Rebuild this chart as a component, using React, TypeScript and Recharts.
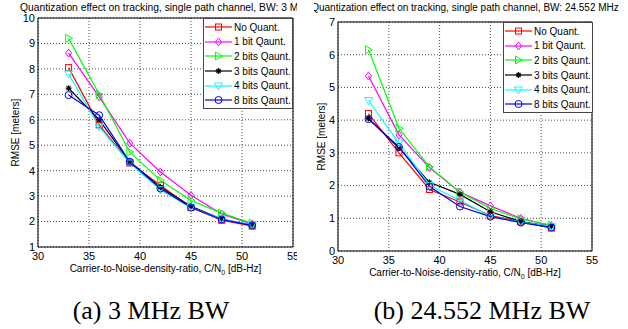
import React from "react";
import { LineChart, Line, XAxis, YAxis, CartesianGrid, ReferenceArea, Legend } from "recharts";

const snr = [33, 36, 39, 42, 45, 48, 51];
const xTicks = [30, 35, 40, 45, 50, 55];
const seriesNames = ["No Quant.", "1 bit Qaunt.", "2 bits Qaunt.", "3 bits Qaunt.", "4 bits Qaunt.", "8 bits Qaunt."];

// (a) 3 MHz BW
const yTicksA = [1, 2, 3, 4, 5, 6, 7, 8, 9, 10];
const noQuantA = [8.05, 5.8, 4.3, 3.43, 2.55, 2.05, 1.82];
const bit1A = [8.62, 6.9, 5.08, 3.95, 3.03, 2.3, 1.9];
const bit2A = [9.2, 7.0, 4.73, 3.62, 2.83, 2.33, 1.93];
const bit3A = [7.24, 6.0, 4.35, 3.35, 2.6, 2.1, 1.85];
const bit4A = [7.8, 5.72, 4.3, 3.25, 2.55, 2.1, 1.88];
const bit8A = [6.97, 6.18, 4.35, 3.3, 2.55, 2.08, 1.85];

// (b) 24.552 MHz BW
const yTicksB = [0, 1, 2, 3, 4, 5, 6, 7];
const noQuantB = [4.2, 3.0, 1.88, 1.5, 1.08, 0.9, 0.7];
const bit1B = [5.35, 3.55, 2.55, 1.8, 1.38, 1.0, 0.78];
const bit2B = [6.15, 3.75, 2.57, 1.8, 1.3, 0.98, 0.78];
const bit3B = [4.05, 3.15, 2.1, 1.73, 1.2, 0.9, 0.75];
const bit4B = [4.6, 3.3, 2.0, 1.55, 1.05, 0.88, 0.75];
const bit8B = [4.03, 3.18, 1.97, 1.36, 1.05, 0.87, 0.72];

const keys = ["s0", "s1", "s2", "s3", "s4", "s5"];
const colors = ["#ff0000", "#ff00ff", "#00ff00", "#000000", "#00ffff", "#0000ff"];
const shapes = ["square", "diamond", "right", "star", "down", "circle"];

const FONT = "'Liberation Sans', Arial, sans-serif";

function buildRows(series: number[][]) {
  return snr.map((x, i) => {
    const row: Record<string, number> = { snr: x };
    series.forEach((vals, k) => (row[keys[k]] = vals[i]));
    return row;
  });
}

const dataA = buildRows([noQuantA, bit1A, bit2A, bit3A, bit4A, bit8A]);
const dataB = buildRows([noQuantB, bit1B, bit2B, bit3B, bit4B, bit8B]);

function Marker({ shape, cx, cy, color }: { shape: string; cx: number; cy: number; color: string }) {
  const p = { fill: "none", stroke: color, strokeWidth: 1 };
  switch (shape) {
    case "square":
      return <rect x={cx - 3} y={cy - 3} width={6} height={6} {...p} />;
    case "diamond":
      return <polygon points={`${cx},${cy - 4} ${cx + 3},${cy} ${cx},${cy + 4} ${cx - 3},${cy}`} {...p} />;
    case "right":
      return <polygon points={`${cx - 3},${cy - 4} ${cx + 4},${cy} ${cx - 3},${cy + 4}`} {...p} />;
    case "down":
      return <polygon points={`${cx - 4},${cy - 3} ${cx + 4},${cy - 3} ${cx},${cy + 4}`} {...p} />;
    case "circle":
      return <circle cx={cx} cy={cy} r={3.5} {...p} />;
    default:
      return (
        <g stroke={color} strokeWidth={1.2}>
          <line x1={cx - 3} y1={cy} x2={cx + 3} y2={cy} />
          <line x1={cx} y1={cy - 3} x2={cx} y2={cy + 3} />
          <line x1={cx - 2} y1={cy - 2} x2={cx + 2} y2={cy + 2} />
          <line x1={cx - 2} y1={cy + 2} x2={cx + 2} y2={cy - 2} />
        </g>
      );
  }
}

const renderLegend = () => (
  <div
    style={{
      boxSizing: "border-box",
      width: 90,
      height: 91,
      border: "1px solid #444",
      background: "#fff",
      padding: "1px 0",
      fontFamily: FONT,
      fontSize: 10,
      color: "#000",
    }}
  >
    {seriesNames.map((name, k) => (
      <div key={name} style={{ display: "flex", alignItems: "center", height: 14.6, whiteSpace: "nowrap" }}>
        <svg width={29} height={10} style={{ flex: "none" }}>
          <line x1={1} y1={5} x2={28} y2={5} stroke={colors[k]} strokeWidth={1.2} />
          <Marker shape={shapes[k]} cx={14.5} cy={5} color={colors[k]} />
        </svg>
        <span style={{ marginLeft: 1 }}>{name}</span>
      </div>
    ))}
  </div>
);

function Panel({
  data,
  yTicks,
  title,
  titleSize,
  left,
  top,
  right,
  bottom,
  yLabelOffset,
  legendPos,
}: {
  data: Record<string, number>[];
  yTicks: number[];
  title: string;
  titleSize: number;
  left: number;
  top: number;
  right: number;
  bottom: number;
  yLabelOffset: number;
  legendPos: { top: number; left: number };
}) {
  const width = 314;
  const height = 280;
  const yMin = yTicks[0];
  const yMax = yTicks[yTicks.length - 1];
  const plotCenter = left + (width - left - right) / 2;
  return (
    <div style={{ position: "relative", width, height: 329 }}>
      <div
        style={{
          position: "absolute",
          top: 2,
          left: plotCenter - 200,
          width: 400,
          textAlign: "center",
          fontFamily: FONT,
          fontSize: titleSize,
          lineHeight: "12px",
          whiteSpace: "nowrap",
          color: "#000",
        }}
      >
        {title}
      </div>
      <LineChart width={width} height={height} data={data} margin={{ top, right, left: 0, bottom: 0 }}>
        <CartesianGrid stroke="#222" strokeDasharray="1 2" strokeWidth={0.8} />
        <XAxis
          dataKey="snr"
          type="number"
          domain={[30, 55]}
          ticks={xTicks}
          interval={0}
          height={height - bottom}
          axisLine={false}
          tickLine={false}
          tickSize={0}
          tickMargin={5}
          tick={{ fill: "#000", fontSize: 11, fontFamily: FONT }}
          label={{
            content: (props: any) => {
              const vb = props.viewBox || {};
              const cx = (vb.x ?? left) + (vb.width ?? 0) / 2;
              const y = (vb.y ?? bottom) + 25;
              return (
                <text x={cx} y={y} textAnchor="middle" fontFamily={FONT} fontSize={10} fill="#000">
                  Carrier-to-Noise-density-ratio, C/N
                  <tspan fontSize={7} dy={3}>0</tspan>
                  <tspan dy={-3}> [dB-Hz]</tspan>
                </text>
              );
            },
          }}
        />
        <YAxis
          type="number"
          domain={[yMin, yMax]}
          ticks={yTicks}
          interval={0}
          width={left}
          axisLine={false}
          tickLine={false}
          tickSize={0}
          tickMargin={3}
          tick={{ fill: "#000", fontSize: 11, fontFamily: FONT }}
          label={{
            content: (props: any) => {
              const vb = props.viewBox || {};
              const cx = (vb.x ?? 0) + yLabelOffset;
              const cy = (vb.y ?? top) + (vb.height ?? 0) / 2;
              return (
                <text
                  x={cx}
                  y={cy}
                  textAnchor="middle"
                  dominantBaseline="central"
                  transform={`rotate(-90 ${cx} ${cy})`}
                  fontFamily={FONT}
                  fontSize={10}
                  fill="#000"
                >
                  RMSE [meters]
                </text>
              );
            },
          }}
        />
        {keys.map((k, i) => (
          <Line
            key={k}
            dataKey={k}
            name={seriesNames[i]}
            stroke={colors[i]}
            strokeWidth={1.2}
            isAnimationActive={false}
            dot={(p: any) => (
              <g key={`${k}-${p.index}`}>
                <Marker shape={shapes[i]} cx={p.cx} cy={p.cy} color={colors[i]} />
              </g>
            )}
            activeDot={false}
          />
        ))}
        <ReferenceArea x1={30} x2={55} y1={yMin} y2={yMax} fill="none" stroke="#000" strokeWidth={1} />
        <Legend
          layout="vertical"
          align="center"
          verticalAlign="middle"
          content={renderLegend}
          wrapperStyle={{ top: legendPos.top, left: legendPos.left, width: 90, height: 91 }}
        />
      </LineChart>
    </div>
  );
}

const captionStyle: React.CSSProperties = {
  position: "absolute",
  top: 298,
  width: 300,
  textAlign: "center",
  fontFamily: "'Liberation Serif', 'Times New Roman', serif",
  fontSize: 26,
  lineHeight: "26px",
  color: "#000",
  whiteSpace: "nowrap",
};

export default function App() {
  return (
    <div style={{ position: "absolute", left: 0, top: 0, width: 628, height: 329, background: "#fff", overflow: "hidden" }}>
      <div style={{ position: "absolute", left: 0, top: 0, width: 297, height: 329, overflow: "hidden" }}>
        <Panel
          data={dataA}
          yTicks={yTicksA}
          title="Quantization effect on tracking, single path channel, BW: 3 MHz"
          titleSize={10.3}
          left={38}
          top={18}
          right={21}
          bottom={247}
          yLabelOffset={15}
          legendPos={{ top: 18, left: 203 }}
        />
      </div>
      <div style={{ position: "absolute", left: 314, top: 0, width: 314, height: 329, overflow: "hidden" }}>
        <Panel
          data={dataB}
          yTicks={yTicksB}
          title="Quantization effect on tracking, single path channel, BW: 24.552 MHz"
          titleSize={10}
          left={24}
          top={22}
          right={36}
          bottom={251}
          yLabelOffset={7}
          legendPos={{ top: 22, left: 189 }}
        />
      </div>
      <div style={{ ...captionStyle, left: 151 - 150 }}>(a) 3 MHz BW</div>
      <div style={{ ...captionStyle, left: 482 - 150 }}>(b) 24.552 MHz BW</div>
    </div>
  );
}
